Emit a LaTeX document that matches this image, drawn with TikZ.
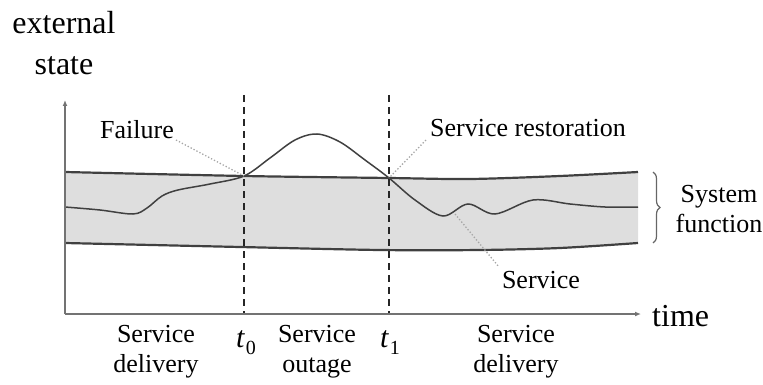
\documentclass[tikz,border=0pt]{standalone}
\usepackage{fontspec}
\setmainfont{Liberation Serif}
\usetikzlibrary{decorations.pathreplacing,arrows.meta}
\newcommand{\tsub}[1]{\textit{t}\kern1pt\raisebox{-7pt}{\fontsize{20}{20}\selectfont #1}}
\begin{document}
\begin{tikzpicture}[x=1pt,y=-1pt,
  lbl/.style={font=\fontsize{26}{30}\selectfont, inner sep=0pt, align=center},
  tlbl/.style={font=\fontsize{30}{30}\selectfont, inner sep=0pt},
  axlbl/.style={font=\fontsize{32}{41}\selectfont, inner sep=0pt, align=center},
  axis/.style={draw=black!55, line width=1.8pt, -{Latex[length=6pt,width=5pt]}},
  bandline/.style={draw=black!75, line width=2.2pt},
  svc/.style={draw=black!75, line width=1.5pt},
  guide/.style={draw=black!35, line width=1.3pt, dotted},
  tline/.style={draw=black!85, line width=1.2pt, dash pattern=on 7pt off 5pt}]
\useasboundingbox (0,0) rectangle (763,385);
% band fill
\fill[black!13] plot[smooth] coordinates {(65,172) (244,176) (389,178) (470,179) (560,176) (638,172)}
  -- plot[smooth] coordinates {(638,243) (560,248) (480,250) (380,250) (240,247) (65,243)} -- cycle;
\draw[bandline] plot[smooth] coordinates {(65,172) (244,176) (389,178) (470,179) (560,176) (638,172)};
\draw[bandline] plot[smooth] coordinates {(65,243) (240,247) (380,250) (480,250) (560,248) (638,243)};
% service curve
\draw[svc] plot[smooth, tension=0.55] coordinates {(65,207) (100,210) (133,214) (147,208) (162,196) (178,190) (210,184) (244,176) (270,158) (295,140) (317,134) (340,142) (365,160) (389,178) (415,200) (443,216) (468,204) (495,214) (533,200) (570,204) (605,207) (638,207)};
% coordinates
\coordinate (O) at (65,314);
\coordinate (ytop) at (65,100);
\coordinate (xend) at (641,314);
\coordinate (t0top) at (244,95);
\coordinate (t0bot) at (244,314);
\coordinate (t1top) at (389,95);
\coordinate (t1bot) at (389,314);
\coordinate (fail) at (244,176);
\coordinate (rest) at (389,178);
\coordinate (svcpt) at (455,214);
% dashed time lines
\draw[tline] (t0top) -- (t0bot);
\draw[tline] (t1top) -- (t1bot);
% axes
\draw[axis] (O) -- (ytop);
\draw[axis] (O) -- (xend);
% labels
\node[axlbl] (ext) at (64,43) {external\\state};
\node[axlbl, anchor=west] (time) at (652,316) {time};
\node[lbl] (failure) at (137,130) {Failure};
\node[lbl] (restoration) at (528,128) {Service restoration};
\node[lbl] (service) at (541,280) {Service};
\node[lbl] (sysf) at (719,209) {System\\function};
\node[lbl] (sd1) at (156,352) {Service\\delivery};
\node[lbl] (so) at (317,352) {Service\\outage};
\node[lbl] (sd2) at (516,352) {Service\\delivery};
\node[tlbl] (t0) at (246,343) {\tsub{0}};
\node[tlbl] (t1) at (390,343) {\tsub{1}};
% guide lines
\draw[guide] (176,140) -- (fail);
\draw[guide] (426,140) -- (rest);
\draw[guide] (svcpt) -- (499,267);
% brace
\draw[black!60, line width=1.2pt, decorate, decoration={brace, amplitude=7pt}] (653,172) -- (653,243);
\end{tikzpicture}
\end{document}
